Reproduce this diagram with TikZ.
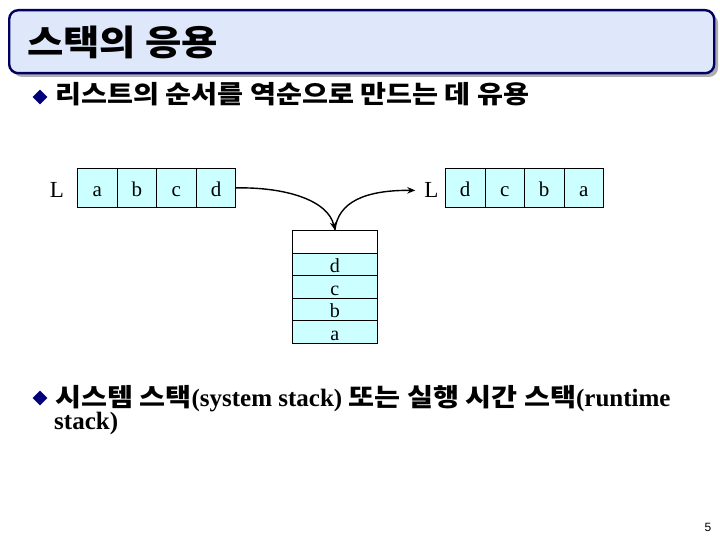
\documentclass[tikz,border=0pt]{standalone}
\usepackage{fontspec}
\setmainfont{Liberation Serif}
\newfontfamily\kr{Noto Sans CJK KR}[FakeStretch=1.13]
\newfontfamily\pgnum{Liberation Sans}
\usetikzlibrary{shapes.geometric,arrows.meta}
\definecolor{navyline}{HTML}{000060}
\definecolor{titlefill}{HTML}{DFE8FA}
\definecolor{cellcyan}{HTML}{CCFFFF}
\definecolor{shadowgray}{HTML}{AEAEAE}
\definecolor{bulletnavy}{HTML}{00007A}
\begin{document}
\begin{tikzpicture}[x=1pt,y=-1pt,
  cellbox/.style={draw=black, line width=0.8pt, fill=cellcyan, minimum width=39.6pt,
    minimum height=39pt, inner sep=0pt, anchor=north west, text height=18pt, text depth=0pt,
    font=\fontsize{21}{21}\selectfont},
  stackcell/.style={draw=black, line width=0.8pt, fill=cellcyan, minimum width=85pt,
    minimum height=22.6pt, inner sep=0pt, anchor=north west, text height=16.8pt, text depth=0pt,
    font=\fontsize{20}{20}\selectfont},
  listlabel/.style={inner sep=0pt, anchor=base, font=\fontsize{23}{23}\selectfont},
  conn/.style={line width=1.4pt, -{Stealth[length=8pt,width=6.5pt]}},
  bulletmark/.style={diamond, fill=bulletnavy, minimum width=15pt, minimum height=15pt, inner sep=0pt},
  krtext/.style={inner sep=0pt, anchor=base west, font=\kr\bfseries\fontsize{25}{25}\selectfont}
]
\useasboundingbox (0,0) rectangle (720,540);
\fill[white] (0,0) rectangle (720,540);

% title
\fill[shadowgray, rounded corners=9pt] (13,14) rectangle (718,77);
\node[draw=navyline, line width=2.4pt, fill=titlefill, rounded corners=9pt,
  minimum width=705pt, minimum height=63pt, anchor=north west, inner sep=0pt] (titlebox) at (8,9) {};
\node[inner sep=0pt, anchor=base west, font=\kr\bfseries\fontsize{35}{35}\selectfont] (title) at (27,56) {스택의 응용};

% bullet 1
\node[bulletmark] (bul1) at (40,97) {};
\node[krtext] (b1) at (55,104) {리스트의 순서를 역순으로 만드는 데 유용};

% list 1
\node[listlabel] (L1) at (57,198) {L};
\node[cellbox] (la) at (77,168) {a};
\node[cellbox] (lb) at (116.6,168) {b};
\node[cellbox] (lc) at (156.2,168) {c};
\node[cellbox] (ld) at (195.8,168) {d};

% list 2
\node[listlabel] (L2) at (431.5,198) {L};
\node[cellbox] (rd) at (445,168) {d};
\node[cellbox] (rc) at (484.5,168) {c};
\node[cellbox] (rb) at (524,168) {b};
\node[cellbox] (ra) at (563.5,168) {a};

% stack
\node[stackcell, fill=white] (stop) at (292,230) {};
\node[stackcell] (sd) at (292,252.6) {d};
\node[stackcell] (sc) at (292,275.2) {c};
\node[stackcell] (sb) at (292,297.8) {b};
\node[stackcell] (sa) at (292,320.4) {a};

% connectors
\draw[conn] (ld.east) .. controls (285,187) and (328,200) .. (stop.north);
\draw[conn, shorten >=9pt] (stop.north) .. controls (338,202) and (365,190) .. (L2.west);

% bullet 2
\node[bulletmark] (bul2) at (40,398) {};
\node[krtext] (b2a) at (55,406) {시스템 스택{\rmfamily(system stack)} 또는 실행 시간 스택{\rmfamily(runtime}};
\node[krtext, font=\rmfamily\bfseries\fontsize{25}{25}\selectfont] (b2b) at (54,429) {stack)};

% page number
\node[inner sep=0pt, font=\pgnum\fontsize{12}{12}\selectfont] (pg) at (708,527) {5};
\end{tikzpicture}
\end{document}
